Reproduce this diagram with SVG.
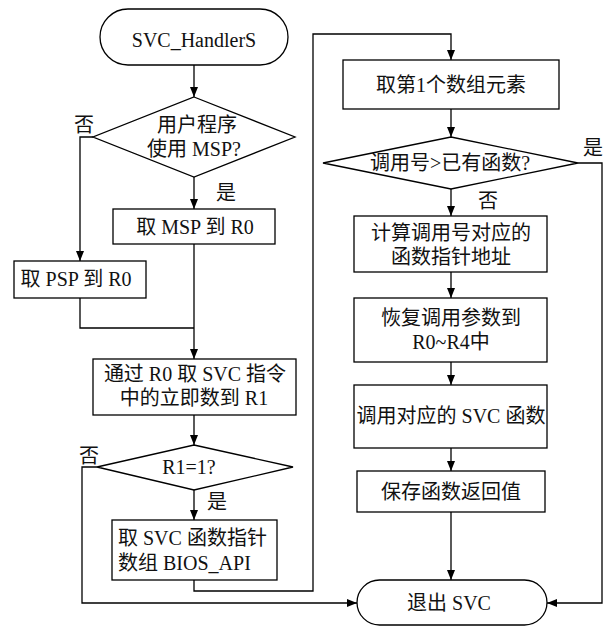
<svg xmlns="http://www.w3.org/2000/svg" width="610" height="628" viewBox="0 0 610 628">
<style>
.s{fill:#fff;stroke:#000;stroke-width:1.3}
.c{fill:none;stroke:#000;stroke-width:1.3}
text{font-family:"Liberation Serif","Noto Sans CJK SC",serif;font-size:20px;fill:#111;text-anchor:middle}
.l{text-anchor:start}
</style>
<defs>
<marker id="a" viewBox="0 0 10 8" refX="10" refY="4" markerWidth="10" markerHeight="8" markerUnits="userSpaceOnUse" orient="auto">
<path d="M0,0 L10,4 L0,8 Z" fill="#000"/>
</marker>
</defs>
<rect width="610" height="628" fill="#fff"/>
<g id="connectors">
<path class="c" d="M194,65 V97" marker-end="url(#a)"/>
<path class="c" d="M93,137 H80 V261" marker-end="url(#a)"/>
<path class="c" d="M194,177 V209" marker-end="url(#a)"/>
<path class="c" d="M80,298 V328 H194"/>
<path class="c" d="M194,244 V359" marker-end="url(#a)"/>
<path class="c" d="M194,415 V445" marker-end="url(#a)"/>
<path class="c" d="M194,490 V520" marker-end="url(#a)"/>
<path class="c" d="M97,467 H82 V603 H357" marker-end="url(#a)"/>
<path class="c" d="M194,580 V591 H313 V34 H451 V60" marker-end="url(#a)"/>
<path class="c" d="M451,109 V137" marker-end="url(#a)"/>
<path class="c" d="M451,189 V216" marker-end="url(#a)"/>
<path class="c" d="M578,163 H602 V603 H547" marker-end="url(#a)"/>
<path class="c" d="M451,272 V298" marker-end="url(#a)"/>
<path class="c" d="M451,362 V385" marker-end="url(#a)"/>
<path class="c" d="M451,448 V471" marker-end="url(#a)"/>
<path class="c" d="M451,512 V580" marker-end="url(#a)"/>
</g>
<g id="labels">
<text x="84" y="132">否</text>
<text x="226" y="200">是</text>
<text x="89" y="463">否</text>
<text x="217" y="509">是</text>
<text x="593" y="155">是</text>
<text x="488" y="208">否</text>
</g>
<g id="start">
<rect class="s" x="100" y="9" width="188" height="56" rx="28"/>
<text x="194" y="47">SVC_HandlerS</text>
</g>
<g id="d1">
<polygon class="s" points="194,97 295,137 194,177 93,137"/>
<text x="197" y="132">用户程序</text>
<text x="194" y="156">使用 MSP?</text>
</g>
<g id="msp">
<rect class="s" x="113" y="209" width="162" height="35"/>
<text x="195" y="234">取 MSP 到 R0</text>
</g>
<g id="psp">
<rect class="s" x="14" y="261" width="132" height="37"/>
<text x="76" y="286">取 PSP 到 R0</text>
</g>
<g id="box3">
<rect class="s" x="93" y="359" width="203" height="56"/>
<text x="195" y="381">通过 R0 取 SVC 指令</text>
<text x="194" y="405">中的立即数到 R1</text>
</g>
<g id="d2">
<polygon class="s" points="194,445 293,467 194,490 97,467"/>
<text x="189" y="474">R1=1?</text>
</g>
<g id="box4">
<rect class="s" x="112" y="520" width="165" height="60"/>
<text class="l" x="118" y="545">取 SVC 函数指针</text>
<text class="l" x="118" y="570">数组 BIOS_API</text>
</g>
<g id="r1">
<rect class="s" x="343" y="60" width="216" height="49"/>
<text x="451" y="92">取第1个数组元素</text>
</g>
<g id="d3">
<polygon class="s" points="451,137 578,163 451,189 323,163"/>
<text x="450" y="170">调用号&gt;已有函数?</text>
</g>
<g id="r2">
<rect class="s" x="354" y="216" width="193" height="56"/>
<text x="451" y="240">计算调用号对应的</text>
<text x="451" y="264">函数指针地址</text>
</g>
<g id="r3">
<rect class="s" x="354" y="298" width="193" height="64"/>
<text x="451" y="325">恢复调用参数到</text>
<text x="451" y="349">R0~R4中</text>
</g>
<g id="r4">
<rect class="s" x="354" y="385" width="193" height="63"/>
<text x="451" y="423">调用对应的 SVC 函数</text>
</g>
<g id="r5">
<rect class="s" x="357" y="471" width="188" height="41"/>
<text x="451" y="499">保存函数返回值</text>
</g>
<g id="exit">
<rect class="s" x="357" y="580" width="190" height="45" rx="22.5"/>
<text x="449" y="610">退出 SVC</text>
</g>
</svg>
